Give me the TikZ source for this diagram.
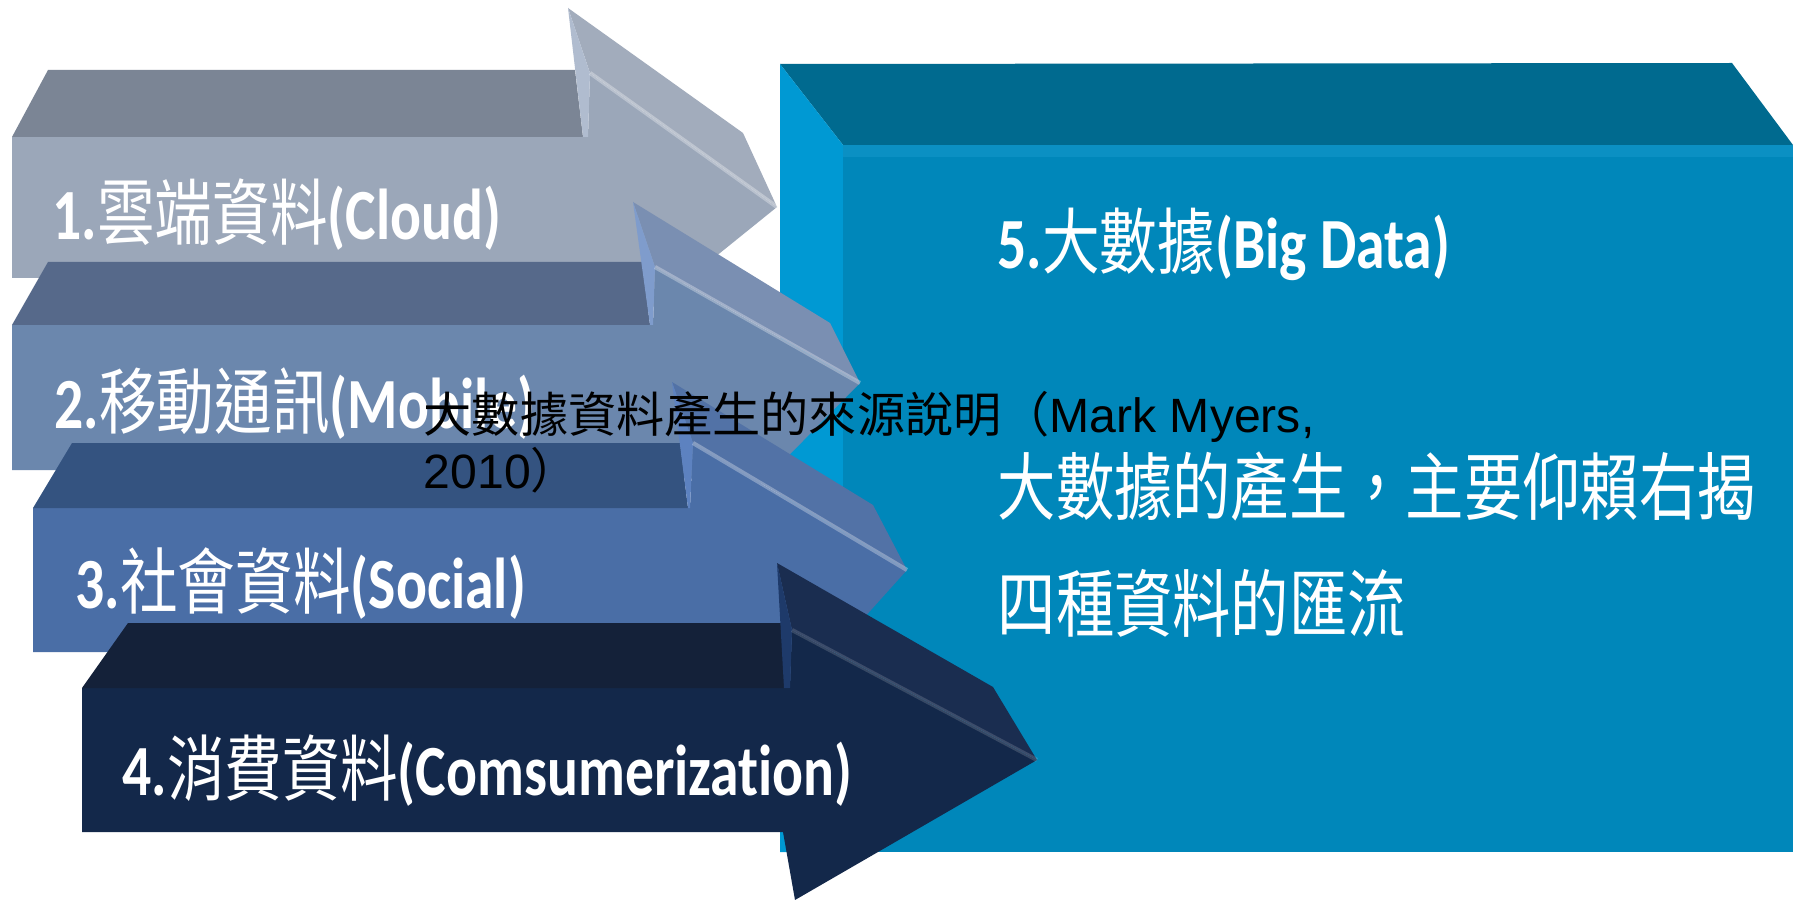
\documentclass[tikz,border=0pt]{standalone}
\usepackage{fontspec}
\usepackage{graphicx}
\newfontfamily\cjk{Noto Sans CJK TC}
\newfontfamily\latb{Carlito}[Ligatures=NoCommon]
\newfontfamily\arialf{Liberation Sans}
\newcommand{\arrlbl}[3]{\scalebox{0.8}[1]{{\latb\bfseries #1}{\cjk #2}{\latb\bfseries #3}}}
\newcommand{\bodyline}[1]{\scalebox{0.79}[1]{\cjk #1}}
\definecolor{boxtop}{HTML}{006A8F}
\definecolor{boxside}{HTML}{0099D3}
\definecolor{boxfront}{HTML}{0087BA}
\definecolor{boxband}{HTML}{0B90C3}
\definecolor{aOtop}{HTML}{7B8595}
\definecolor{aOfront}{HTML}{9BA7B9}
\definecolor{aOhead}{HTML}{A2ACBC}
\definecolor{aOside}{HTML}{B0BCCF}
\definecolor{aTtop}{HTML}{56698A}
\definecolor{aTfront}{HTML}{6B87AD}
\definecolor{aThead}{HTML}{7A8FB2}
\definecolor{aTside}{HTML}{7F9CCC}
\definecolor{aHtop}{HTML}{345380}
\definecolor{aHfront}{HTML}{4A6EA6}
\definecolor{aHhead}{HTML}{5272A6}
\definecolor{aHside}{HTML}{5D82C0}
\definecolor{aFtop}{HTML}{142139}
\definecolor{aFfront}{HTML}{13284A}
\definecolor{aFhead}{HTML}{1A2D50}
\definecolor{aFside}{HTML}{1E3A6A}
\tikzset{
  lbl/.style={anchor=west, inner sep=0pt, text=white, font=\fontsize{20.5}{24}\selectfont},
  bodytext/.style={anchor=west, inner sep=0pt, text=white, font=\fontsize{21}{25}\selectfont},
  captext/.style={anchor=base west, inner sep=0pt, text=black, font=\arialf\fontsize{13.7}{16}\selectfont},
  hl/.style={line width=1.2, draw opacity=0.3, white}
}
\begin{document}
\begin{tikzpicture}[x=0.1mm, y=-0.1mm, line join=round]
\useasboundingbox (0,0) rectangle (1802,900);
\fill[white] (0,0) rectangle (1802,900);

% box 5
\fill[boxtop] (780,64) -- (1732,63) -- (1793,145) -- (843,145) -- cycle;
\fill[boxside] (780,64) -- (843,145) -- (843,852) -- (780,852) -- cycle;
\fill[boxfront] (843,145) rectangle (1793,852);
\fill[boxband] (843,145) rectangle (1793,157);
\node[lbl] (l5) at (997,244) {\arrlbl{5.}{大數據}{(Big Data)}};
\node[bodytext] (b1) at (997,486) {\bodyline{大數據的產生，主要仰賴右揭}};
\node[bodytext] (b2) at (997,603) {\bodyline{四種資料的匯流}};

% arrow 1
\fill[aOfront] (12,137) -- (588,137) -- (590,73) -- (777,207) -- (611,341) -- (600,278) -- (12,278) -- cycle;
\fill[aOtop] (48,70) -- (575,70) -- (583,137) -- (12,137) -- cycle;
\fill[aOhead] (568,8) -- (743,133) -- (777,207) -- (590,73) -- cycle;
\fill[aOside] (568,8) -- (590,73) -- (588,137) -- (583,137) -- cycle;
\draw[hl] (590,73) -- (777,207);
\node[lbl] (l1) at (52,215) {\arrlbl{1.}{雲端資料}{(Cloud)}};

% arrow 2
\fill[aTfront] (12,325) -- (653,325) -- (655,267) -- (860,383) -- (745,500) -- (670,470) -- (12,470) -- cycle;
\fill[aTtop] (48,262) -- (642,262) -- (650,325) -- (12,325) -- cycle;
\fill[aThead] (633,202) -- (830,323) -- (860,383) -- (655,267) -- cycle;
\fill[aTside] (633,202) -- (655,267) -- (653,325) -- (650,325) -- cycle;
\draw[hl] (655,267) -- (860,383);
\node[lbl] (l2) at (54,404) {\arrlbl{2.}{移動通訊}{(Mobile)}};

% arrow 3
\fill[aHfront] (33,508) -- (690,508) -- (693,443) -- (907,570) -- (790,700) -- (710,652) -- (33,652) -- cycle;
\fill[aHtop] (72,443) -- (680,443) -- (688,508) -- (33,508) -- cycle;
\fill[aHhead] (672,382) -- (873,505) -- (907,570) -- (693,443) -- cycle;
\fill[aHside] (672,382) -- (693,443) -- (690,508) -- (688,508) -- cycle;
\draw[hl] (693,443) -- (907,570);
\node[lbl] (l3) at (75,584) {\arrlbl{3.}{社會資料}{(Social)}};

% arrow 4
\fill[aFfront] (82,688) -- (790,688) -- (792,630) -- (1037,760) -- (795,900) -- (783,832) -- (82,832) -- cycle;
\fill[aFtop] (128,623) -- (784,623) -- (790,688) -- (82,688) -- cycle;
\fill[aFhead] (777,563) -- (993,687) -- (1037,760) -- (792,630) -- cycle;
\fill[aFside] (777,563) -- (792,630) -- (790,688) -- (784,688) -- cycle;
\draw[hl, draw opacity=0.15] (792,630) -- (1037,760);
\node[lbl] (l4) at (122,771) {\arrlbl{4.}{消費資料}{(Comsumerization)}};

% caption
\node[captext] (cap1) at (423,432) {{\cjk 大數據資料產生的來源說明（}Mark Myers,};
\node[captext] (cap2) at (423,488) {2010{\cjk ）}};
\end{tikzpicture}
\end{document}
